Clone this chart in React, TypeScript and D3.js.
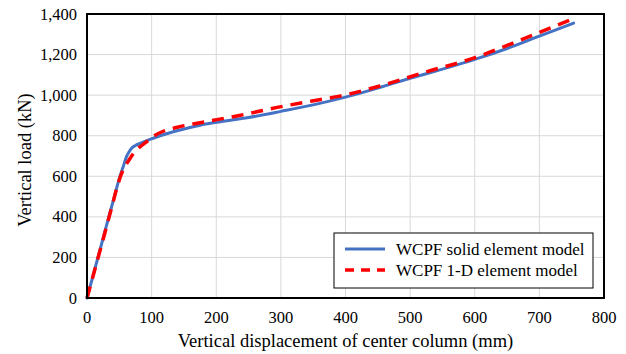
import React from "react";
import * as d3 from "d3";

// Load–displacement response of the center column
const solidDisp = [0, 10, 20, 30, 40, 45, 50, 56, 61, 65, 69, 75, 82, 97.5, 113, 141, 175, 200, 250, 300, 350, 400, 450, 500, 550, 600, 650, 700, 753];
const solidLoad = [0, 118, 236, 355, 473, 532, 590, 647, 696, 720, 738, 752, 762, 782, 800, 826, 852, 866, 890, 920, 952, 990, 1035, 1083, 1128, 1176, 1230, 1291, 1355];

const lineDisp = [0, 20, 40, 46, 53.6, 60, 66.5, 74, 82, 92, 103, 118, 140, 175, 236, 303, 355, 391, 453, 525, 597, 664, 755];
const lineLoad = [0, 232, 468, 540, 614, 655, 688, 721, 745, 770, 798, 822, 842, 864, 900, 945, 975, 995, 1045, 1115, 1181, 1263, 1380];

const xTicks = [0, 100, 200, 300, 400, 500, 600, 700, 800];
const yTicks = [0, 200, 400, 600, 800, 1000, 1200, 1400];

const seriesNames = ["WCPF solid element model", "WCPF 1-D element model"];

const W = 626;
const H = 354;
const plot = { left: 87, right: 604, top: 14, bottom: 298 };
const FONT = "'Liberation Serif', 'Times New Roman', serif";

export default function App() {
  const x = d3.scaleLinear().domain([0, 800]).range([plot.left, plot.right]);
  const y = d3.scaleLinear().domain([0, 1400]).range([plot.bottom, plot.top]);
  const fmt = d3.format(",");

  const line = d3
    .line<[number, number]>()
    .x((d) => x(d[0]))
    .y((d) => y(d[1]))
    .curve(d3.curveMonotoneX);

  const solid = line(solidDisp.map((d, i) => [d, solidLoad[i]] as [number, number])) || "";
  const oneD = line(lineDisp.map((d, i) => [d, lineLoad[i]] as [number, number])) || "";

  return (
    <svg
      width={W}
      height={H}
      style={{ position: "absolute", left: 0, top: 0, background: "#fff", fontFamily: FONT }}
    >
      <rect x={0} y={0} width={W} height={H} fill="#fff" />
      {/* grid */}
      {xTicks.map((t) => (
        <line key={"gx" + t} x1={x(t)} x2={x(t)} y1={plot.top} y2={plot.bottom} stroke="#d9d9d9" strokeWidth={1} />
      ))}
      {yTicks.map((t) => (
        <line key={"gy" + t} x1={plot.left} x2={plot.right} y1={y(t)} y2={y(t)} stroke="#d9d9d9" strokeWidth={1} />
      ))}

      {/* series */}
      <path d={solid} fill="none" stroke="#4472C4" strokeWidth={3} strokeLinecap="round" />
      <path d={oneD} fill="none" stroke="#FF0000" strokeWidth={3.5} strokeDasharray="12,8" />

      {/* frame */}
      <rect
        x={plot.left}
        y={plot.top}
        width={plot.right - plot.left}
        height={plot.bottom - plot.top}
        fill="none"
        stroke="#000"
        strokeWidth={2}
      />

      {/* tick labels */}
      {yTicks.map((t) => (
        <text key={"ty" + t} x={77} y={y(t) + 5.5} textAnchor="end" fontSize={16.5} fill="#000">
          {fmt(t)}
        </text>
      ))}
      {xTicks.map((t) => (
        <text key={"tx" + t} x={x(t)} y={323} textAnchor="middle" fontSize={16.5} fill="#000">
          {t}
        </text>
      ))}

      {/* axis titles */}
      <text x={(plot.left + plot.right) / 2} y={347} textAnchor="middle" fontSize={18.5} fill="#000">
        Vertical displacement of center column (mm)
      </text>
      <text
        transform={`translate(31, ${(plot.top + plot.bottom) / 2 + 4}) rotate(-90)`}
        textAnchor="middle"
        fontSize={18.5}
        fill="#000"
      >
        Vertical load (kN)
      </text>

      {/* legend */}
      <rect x={334} y={233} width={259} height={55} fill="#fff" stroke="#000" strokeWidth={1} />
      <line x1={345} x2={385} y1={249} y2={249} stroke="#4472C4" strokeWidth={3} />
      <line x1={345} x2={385} y1={270} y2={270} stroke="#FF0000" strokeWidth={3.5} strokeDasharray="9,7" />
      <text x={396} y={255} fontSize={17} fill="#000">
        {seriesNames[0]}
      </text>
      <text x={396} y={276} fontSize={17} fill="#000">
        {seriesNames[1]}
      </text>
    </svg>
  );
}
